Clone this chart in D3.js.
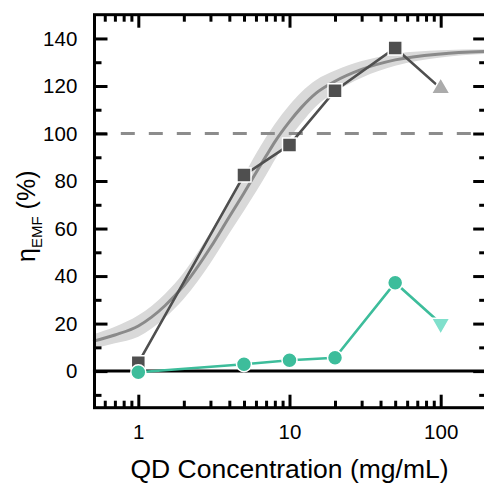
<!DOCTYPE html>
<html>
<head>
<meta charset="utf-8">
<script src="https://cdn.jsdelivr.net/npm/d3@7"></script>
<style>
  html, body { margin: 0; padding: 0; background: #fff; }
  svg { display: block; font-family: "Liberation Sans", Arial, sans-serif; }
</style>
</head>
<body>
<svg id="chart" width="484" height="486"></svg>
<script>
// Measured efficiency vs. quantum-dot concentration (gray squares / teal circles)
const concentrations = [1, 5, 10, 20, 50];
const grayEta = [3.5, 82.5, 95.2, 118, 136];
const tealEta = [-0.5, 2.9, 4.6, 5.6, 37.2];
// Highest-concentration points, drawn with triangles
const lastConc = [100];
const grayLast = [119];
const tealLast = [20];

// Sigmoidal fit and its confidence band
const fitConc  = [0.5, 0.7, 1, 1.5, 2, 3, 4, 5, 6, 7, 8, 10, 12, 15, 20, 30, 50, 100, 200];
const fitMean  = [12.5, 15.2, 19, 27.5, 36, 52, 65, 75, 83.5, 90.5, 96.5, 105, 111, 117, 122, 127, 131, 133.5, 134.5];
const fitLower = [9.5, 11.7, 14.5, 22.5, 30.5, 45.5, 58, 67.5, 75.5, 82.5, 89, 98, 104.5, 111.5, 117.5, 123.5, 128.5, 132, 133.5];
const fitUpper = [15.5, 18.7, 23.5, 32.5, 41.5, 58.5, 72, 82.5, 91.5, 98.5, 104, 112, 117.5, 122.5, 126.5, 130.5, 133.5, 135, 135.5];

const referenceLevel = 100;

// Tick values
const xMajor = [1, 10, 100];
const xMinor = [0.6, 0.7, 0.8, 0.9, 2, 3, 4, 5, 6, 7, 8, 9, 20, 30, 40, 50, 60, 70, 80, 90, 200];
const yMajor = [0, 20, 40, 60, 80, 100, 120, 140];
const yMinor = [-10, 10, 30, 50, 70, 90, 110, 130];

const svg = d3.select("#chart");

const mLeft = 92.8, mRight = 486.2, mTop = 14.7, mBottom = 407.7;
const x = d3.scaleLog().domain([0.5, 200]).range([mLeft, mRight]);
const y = d3.scaleLinear().domain([-15.4, 150]).range([mBottom, mTop]);

svg.append("defs").append("clipPath").attr("id", "plot")
  .append("rect").attr("x", mLeft).attr("y", mTop)
  .attr("width", mRight - mLeft).attr("height", mBottom - mTop);

const plot = svg.append("g").attr("clip-path", "url(#plot)");

const fitRows = fitConc.map((c, i) => ({ c, m: fitMean[i], lo: fitLower[i], hi: fitUpper[i] }));

// confidence band
plot.append("path")
  .datum(fitRows)
  .attr("fill", "#d9d9d9")
  .attr("d", d3.area().curve(d3.curveMonotoneX)
    .x(d => x(d.c)).y0(d => y(d.lo)).y1(d => y(d.hi)));

// dashed 100 % reference
plot.append("line")
  .attr("x1", mLeft).attr("x2", mRight)
  .attr("y1", y(referenceLevel)).attr("y2", y(referenceLevel))
  .attr("stroke", "#8c8c8c").attr("stroke-width", 3)
  .attr("stroke-dasharray", "14,14");

// fit curve
plot.append("path")
  .datum(fitRows)
  .attr("fill", "none").attr("stroke", "#8a8a8a").attr("stroke-width", 3)
  .attr("d", d3.line().curve(d3.curveMonotoneX).x(d => x(d.c)).y(d => y(d.m)));

// zero line
plot.append("line")
  .attr("x1", mLeft).attr("x2", mRight)
  .attr("y1", y(0)).attr("y2", y(0))
  .attr("stroke", "#000").attr("stroke-width", 3);

const grayRows = concentrations.map((c, i) => ({ c, v: grayEta[i] }))
  .concat(lastConc.map((c, i) => ({ c, v: grayLast[i] })));
const tealRows = concentrations.map((c, i) => ({ c, v: tealEta[i] }))
  .concat(lastConc.map((c, i) => ({ c, v: tealLast[i] })));

const seriesLine = d3.line().x(d => x(d.c)).y(d => y(d.v));

plot.append("path").datum(grayRows)
  .attr("fill", "none").attr("stroke", "#4f4f4f").attr("stroke-width", 2.6)
  .attr("d", seriesLine);
plot.append("path").datum(tealRows)
  .attr("fill", "none").attr("stroke", "#3dbd9b").attr("stroke-width", 2.6)
  .attr("d", seriesLine);

// gray squares
plot.selectAll(".sq").data(concentrations.map((c, i) => ({ c, v: grayEta[i] })))
  .join("path")
  .attr("transform", d => `translate(${x(d.c)},${y(d.v)})`)
  .attr("d", d3.symbol(d3.symbolSquare, 196))
  .attr("fill", "#4f4f4f").attr("stroke", "#fff").attr("stroke-width", 1.5);

// gray up-triangle
plot.selectAll(".tu").data(lastConc.map((c, i) => ({ c, v: grayLast[i] })))
  .join("path")
  .attr("transform", d => `translate(${x(d.c)},${y(d.v)})`)
  .attr("d", d3.symbol(d3.symbolTriangle, 150))
  .attr("fill", "#ababab").attr("stroke", "#fff").attr("stroke-width", 1.5);

// teal circles
plot.selectAll(".ci").data(concentrations.map((c, i) => ({ c, v: tealEta[i] })))
  .join("circle")
  .attr("cx", d => x(d.c)).attr("cy", d => y(d.v)).attr("r", 7.5)
  .attr("fill", "#3dbd9b").attr("stroke", "#fff").attr("stroke-width", 1.5);

// teal down-triangle
plot.selectAll(".td").data(lastConc.map((c, i) => ({ c, v: tealLast[i] })))
  .join("path")
  .attr("transform", d => `translate(${x(d.c)},${y(d.v)}) rotate(180)`)
  .attr("d", d3.symbol(d3.symbolTriangle, 150))
  .attr("fill", "#80e0cc").attr("stroke", "#fff").attr("stroke-width", 1.5);

// axes: all ticks point inward
const fs = 20.5;
function styleAxis(g) {
  g.select(".domain").remove();
  g.selectAll(".tick line").attr("stroke", "#000").attr("stroke-width", 3);
  g.selectAll(".tick text").attr("fill", "#000").style("font-size", fs + "px")
    .style("font-family", '"Liberation Sans", Arial, sans-serif');
}
const majorLen = 13, minorLen = 7;

svg.append("g").attr("transform", `translate(0,${mBottom})`)
  .call(d3.axisBottom(x).tickValues(xMajor).tickSize(-majorLen).tickPadding(17).tickFormat(d3.format("d")))
  .call(styleAxis);
svg.append("g").attr("transform", `translate(0,${mBottom})`)
  .call(d3.axisBottom(x).tickValues(xMinor).tickSize(-minorLen).tickFormat(""))
  .call(styleAxis);
svg.append("g").attr("transform", `translate(0,${mTop})`)
  .call(d3.axisTop(x).tickValues(xMajor).tickSize(-majorLen).tickFormat(""))
  .call(styleAxis);
svg.append("g").attr("transform", `translate(0,${mTop})`)
  .call(d3.axisTop(x).tickValues(xMinor).tickSize(-minorLen).tickFormat(""))
  .call(styleAxis);

const axisX = mLeft + 1.7;
svg.append("g").attr("transform", `translate(${axisX},0)`)
  .call(d3.axisLeft(y).tickValues(yMajor).tickSize(-majorLen).tickPadding(17.2).tickFormat(d3.format("d")))
  .call(styleAxis);
svg.append("g").attr("transform", `translate(${axisX},0)`)
  .call(d3.axisLeft(y).tickValues(yMinor).tickSize(-minorLen).tickFormat(""))
  .call(styleAxis);
svg.append("g").attr("transform", `translate(${mRight},0)`)
  .call(d3.axisRight(y).tickValues(yMajor).tickSize(-majorLen).tickFormat(""))
  .call(styleAxis);
svg.append("g").attr("transform", `translate(${mRight},0)`)
  .call(d3.axisRight(y).tickValues(yMinor).tickSize(-minorLen).tickFormat(""))
  .call(styleAxis);

// frame
svg.append("rect")
  .attr("x", axisX).attr("y", mTop)
  .attr("width", mRight - axisX).attr("height", mBottom - mTop)
  .attr("fill", "none").attr("stroke", "#000").attr("stroke-width", 3);

// axis titles
svg.append("text")
  .attr("x", (mLeft + mRight) / 2).attr("y", 478)
  .attr("text-anchor", "middle")
  .style("font-size", "26.5px").attr("fill", "#000")
  .text("QD Concentration (mg/mL)");

const yTitle = svg.append("text")
  .attr("transform", `translate(35,${(mTop + mBottom) / 2 + 5}) rotate(-90)`)
  .attr("text-anchor", "middle")
  .style("font-size", "25px").attr("fill", "#000");
yTitle.append("tspan").text("η");
yTitle.append("tspan").attr("dy", 7).style("font-size", "15px").text("EMF");
yTitle.append("tspan").attr("dy", -7).text(" (%)");
</script>
</body>
</html>
